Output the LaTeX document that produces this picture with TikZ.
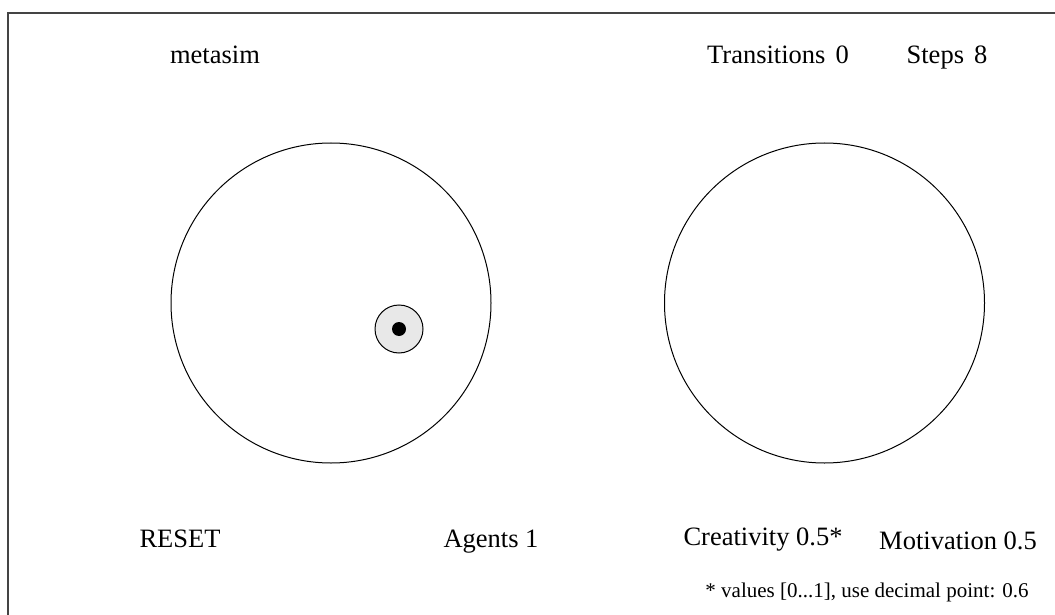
\documentclass[tikz,border=0pt]{standalone}
\usepackage{fontspec}
\setmainfont{Liberation Serif}
\definecolor{agentgray}{HTML}{E8E8E8}
\definecolor{framegray}{HTML}{444444}
\tikzset{
  label/.style={inner sep=0pt,anchor=base,font=\fontsize{26.5}{30}\selectfont},
  note/.style={inner sep=0pt,anchor=base,font=\fontsize{21}{25}\selectfont},
  world/.style={draw,circle,minimum size=320pt,inner sep=0pt,line width=1pt},
}
\begin{document}
\begin{tikzpicture}[x=1pt,y=-1pt]
        \useasboundingbox (0,0) rectangle (1055,615);
        %% Frame
        \draw[framegray,line width=1.5pt] (8,640) -- (8,13) -- (1080,13);
        %% Header
        \node[label] (title) at (215,64) {metasim};
        \node[label] (trans) at (778,64) {Transitions\hspace{0.38em}0};
        \node[label] (steps) at (947,64) {Steps\hspace{0.38em}8};
        %% Worlds
        \node[world] (left) at (331,303) {};
        \node[world] (right) at (824.5,303) {};
        %% Agent
        \node[draw,circle,fill=agentgray,minimum size=48pt,inner sep=0pt,line width=1pt] (agent) at (399,329) {};
        \node[fill,circle,minimum size=14pt,inner sep=0pt] (core) at (agent.center) {};
        %% Controls
        \node[label] (reset) at (180,547) {RESET};
        \node[label] (agents) at (491,547) {Agents 1};
        \node[label] (creat) at (763,545) {Creativity 0.5*};
        \node[label] (motiv) at (958,549) {Motivation 0.5};
        \node[note] (hint) at (867,597) {* values [0...1], use decimal point: 0.6};
\end{tikzpicture}
\end{document}
